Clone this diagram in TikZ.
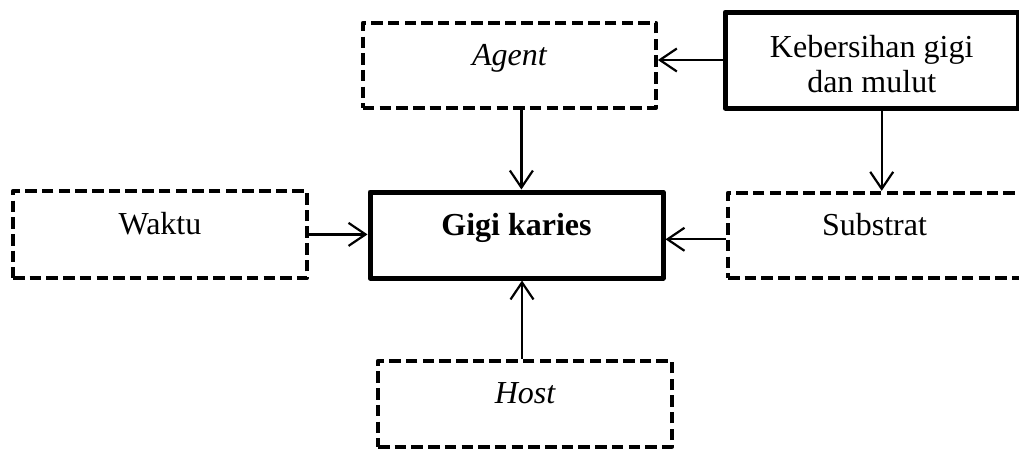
\documentclass[tikz,border=0pt]{standalone}
\usepackage{fontspec}
\setmainfont{Liberation Serif}
\usetikzlibrary{arrows.meta}
\tikzset{
  basebox/.style={rectangle, inner sep=0pt, line join=round, font=\fontsize{32}{34.6}\selectfont,
                  text height=20pt, text depth=20pt},
  dashbox/.style={basebox, draw, line width=4pt, dash pattern=on 11.5pt off 5.2pt},
  solidbox/.style={basebox, draw, line width=5pt},
  arr/.style={line width=2.2pt, -{Straight Barb[length=17pt, width=23pt, line width=2.2pt]}},
}
\begin{document}
\begin{tikzpicture}[x=1pt,y=1pt]
\useasboundingbox (0,0) rectangle (1019,-450);
\node[dashbox, minimum width=293, minimum height=85] (agent) at (509.4,-65.3) {\itshape Agent};
\node[solidbox, minimum width=293, minimum height=96, text height=64pt, text depth=0pt, align=center] (keb) at (871.7,-60) {Kebersihan gigi\\dan mulut};
\node[dashbox, minimum width=294, minimum height=87] (waktu) at (160,-234.4) {Waktu};
\node[solidbox, minimum width=293, minimum height=86] (gigi) at (516.5,-235) {\bfseries Gigi karies};
\node[dashbox, minimum width=293, minimum height=85] (sub) at (874.5,-235.3) {Substrat};
\node[dashbox, minimum width=294, minimum height=86] (host) at (525,-403.7) {\itshape Host};

\draw[arr] (keb.west) -- (keb.west -| agent.east);
\draw[arr] ([xshift=12pt]agent.south) -- ([xshift=12pt]agent.south |- gigi.north);
\draw[arr] ([xshift=10pt]keb.south) -- ([xshift=10pt]keb.south |- sub.north);
\draw[arr] (waktu.east) -- (waktu.east -| gigi.west);
\draw[arr] ([yshift=-4pt]sub.west) -- ([yshift=-4pt]sub.west -| gigi.east);
\draw[arr] ([xshift=-3pt]host.north) -- ([xshift=-3pt]host.north |- gigi.south);
\end{tikzpicture}
\end{document}
